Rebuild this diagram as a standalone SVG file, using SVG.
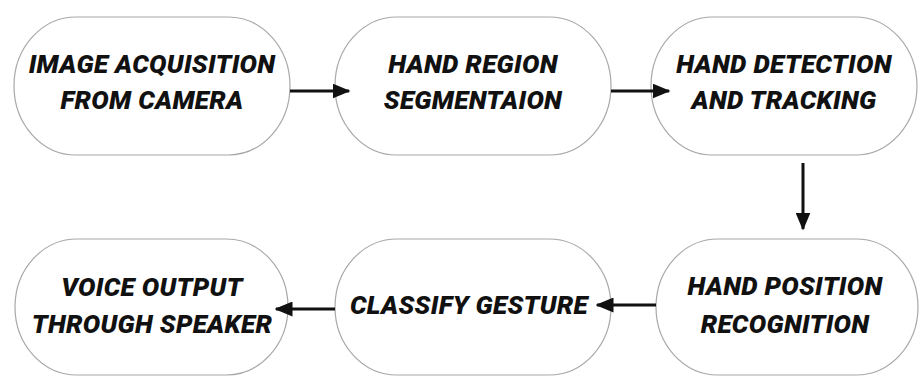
<svg xmlns="http://www.w3.org/2000/svg" width="919" height="376" viewBox="0 0 919 376">
<defs>
<style>
.node{fill:#fff;stroke:#a8a8a8;stroke-width:1.2}
.t{font-family:Roboto,"Liberation Sans",sans-serif;font-weight:900;font-style:italic;font-size:26px;letter-spacing:0.3px;fill:#111;text-anchor:middle}
.c{stroke:#111;stroke-width:3;fill:none}
</style>
<marker id="ah" markerWidth="6" markerHeight="5" refX="5.5" refY="2.5" orient="auto" markerUnits="strokeWidth">
<path d="M0,0 L6,2.5 L0,5 Z" fill="#111"/>
</marker>
</defs>
<rect width="919" height="376" fill="#fff"/>
<g id="n1"><rect class="node" x="14" y="17" width="276" height="138" rx="62" ry="69"/>
<text class="t" x="152" y="73">IMAGE ACQUISITION</text><text class="t" x="152" y="109">FROM CAMERA</text></g>
<g id="n2"><rect class="node" x="335" y="17" width="276" height="138" rx="62" ry="69"/>
<text class="t" x="473" y="73">HAND REGION</text><text class="t" x="473" y="109">SEGMENTAION</text></g>
<g id="n3"><rect class="node" x="651" y="17" width="266" height="138" rx="62" ry="69"/>
<text class="t" x="784" y="73">HAND DETECTION</text><text class="t" x="784" y="109">AND TRACKING</text></g>
<g id="n4"><rect class="node" x="15" y="239" width="273" height="136" rx="62" ry="68"/>
<text class="t" x="152" y="296">VOICE OUTPUT</text><text class="t" x="152" y="333">THROUGH SPEAKER</text></g>
<g id="n5"><rect class="node" x="335" y="239" width="276" height="136" rx="62" ry="68"/>
<text class="t" x="469" y="314">CLASSIFY GESTURE</text></g>
<g id="n6"><rect class="node" x="656" y="239" width="262" height="136" rx="62" ry="68"/>
<text class="t" x="785" y="295">HAND POSITION</text><text class="t" x="785" y="333">RECOGNITION</text></g>
<g id="connectors">
<line class="c" x1="290" y1="91" x2="349" y2="91" marker-end="url(#ah)"/>
<line class="c" x1="611" y1="91" x2="669" y2="91" marker-end="url(#ah)"/>
<line class="c" x1="803" y1="163" x2="803" y2="229" marker-end="url(#ah)"/>
<line class="c" x1="656" y1="305" x2="597" y2="305" marker-end="url(#ah)"/>
<line class="c" x1="335" y1="309" x2="276" y2="309" marker-end="url(#ah)"/>
</g>
</svg>
